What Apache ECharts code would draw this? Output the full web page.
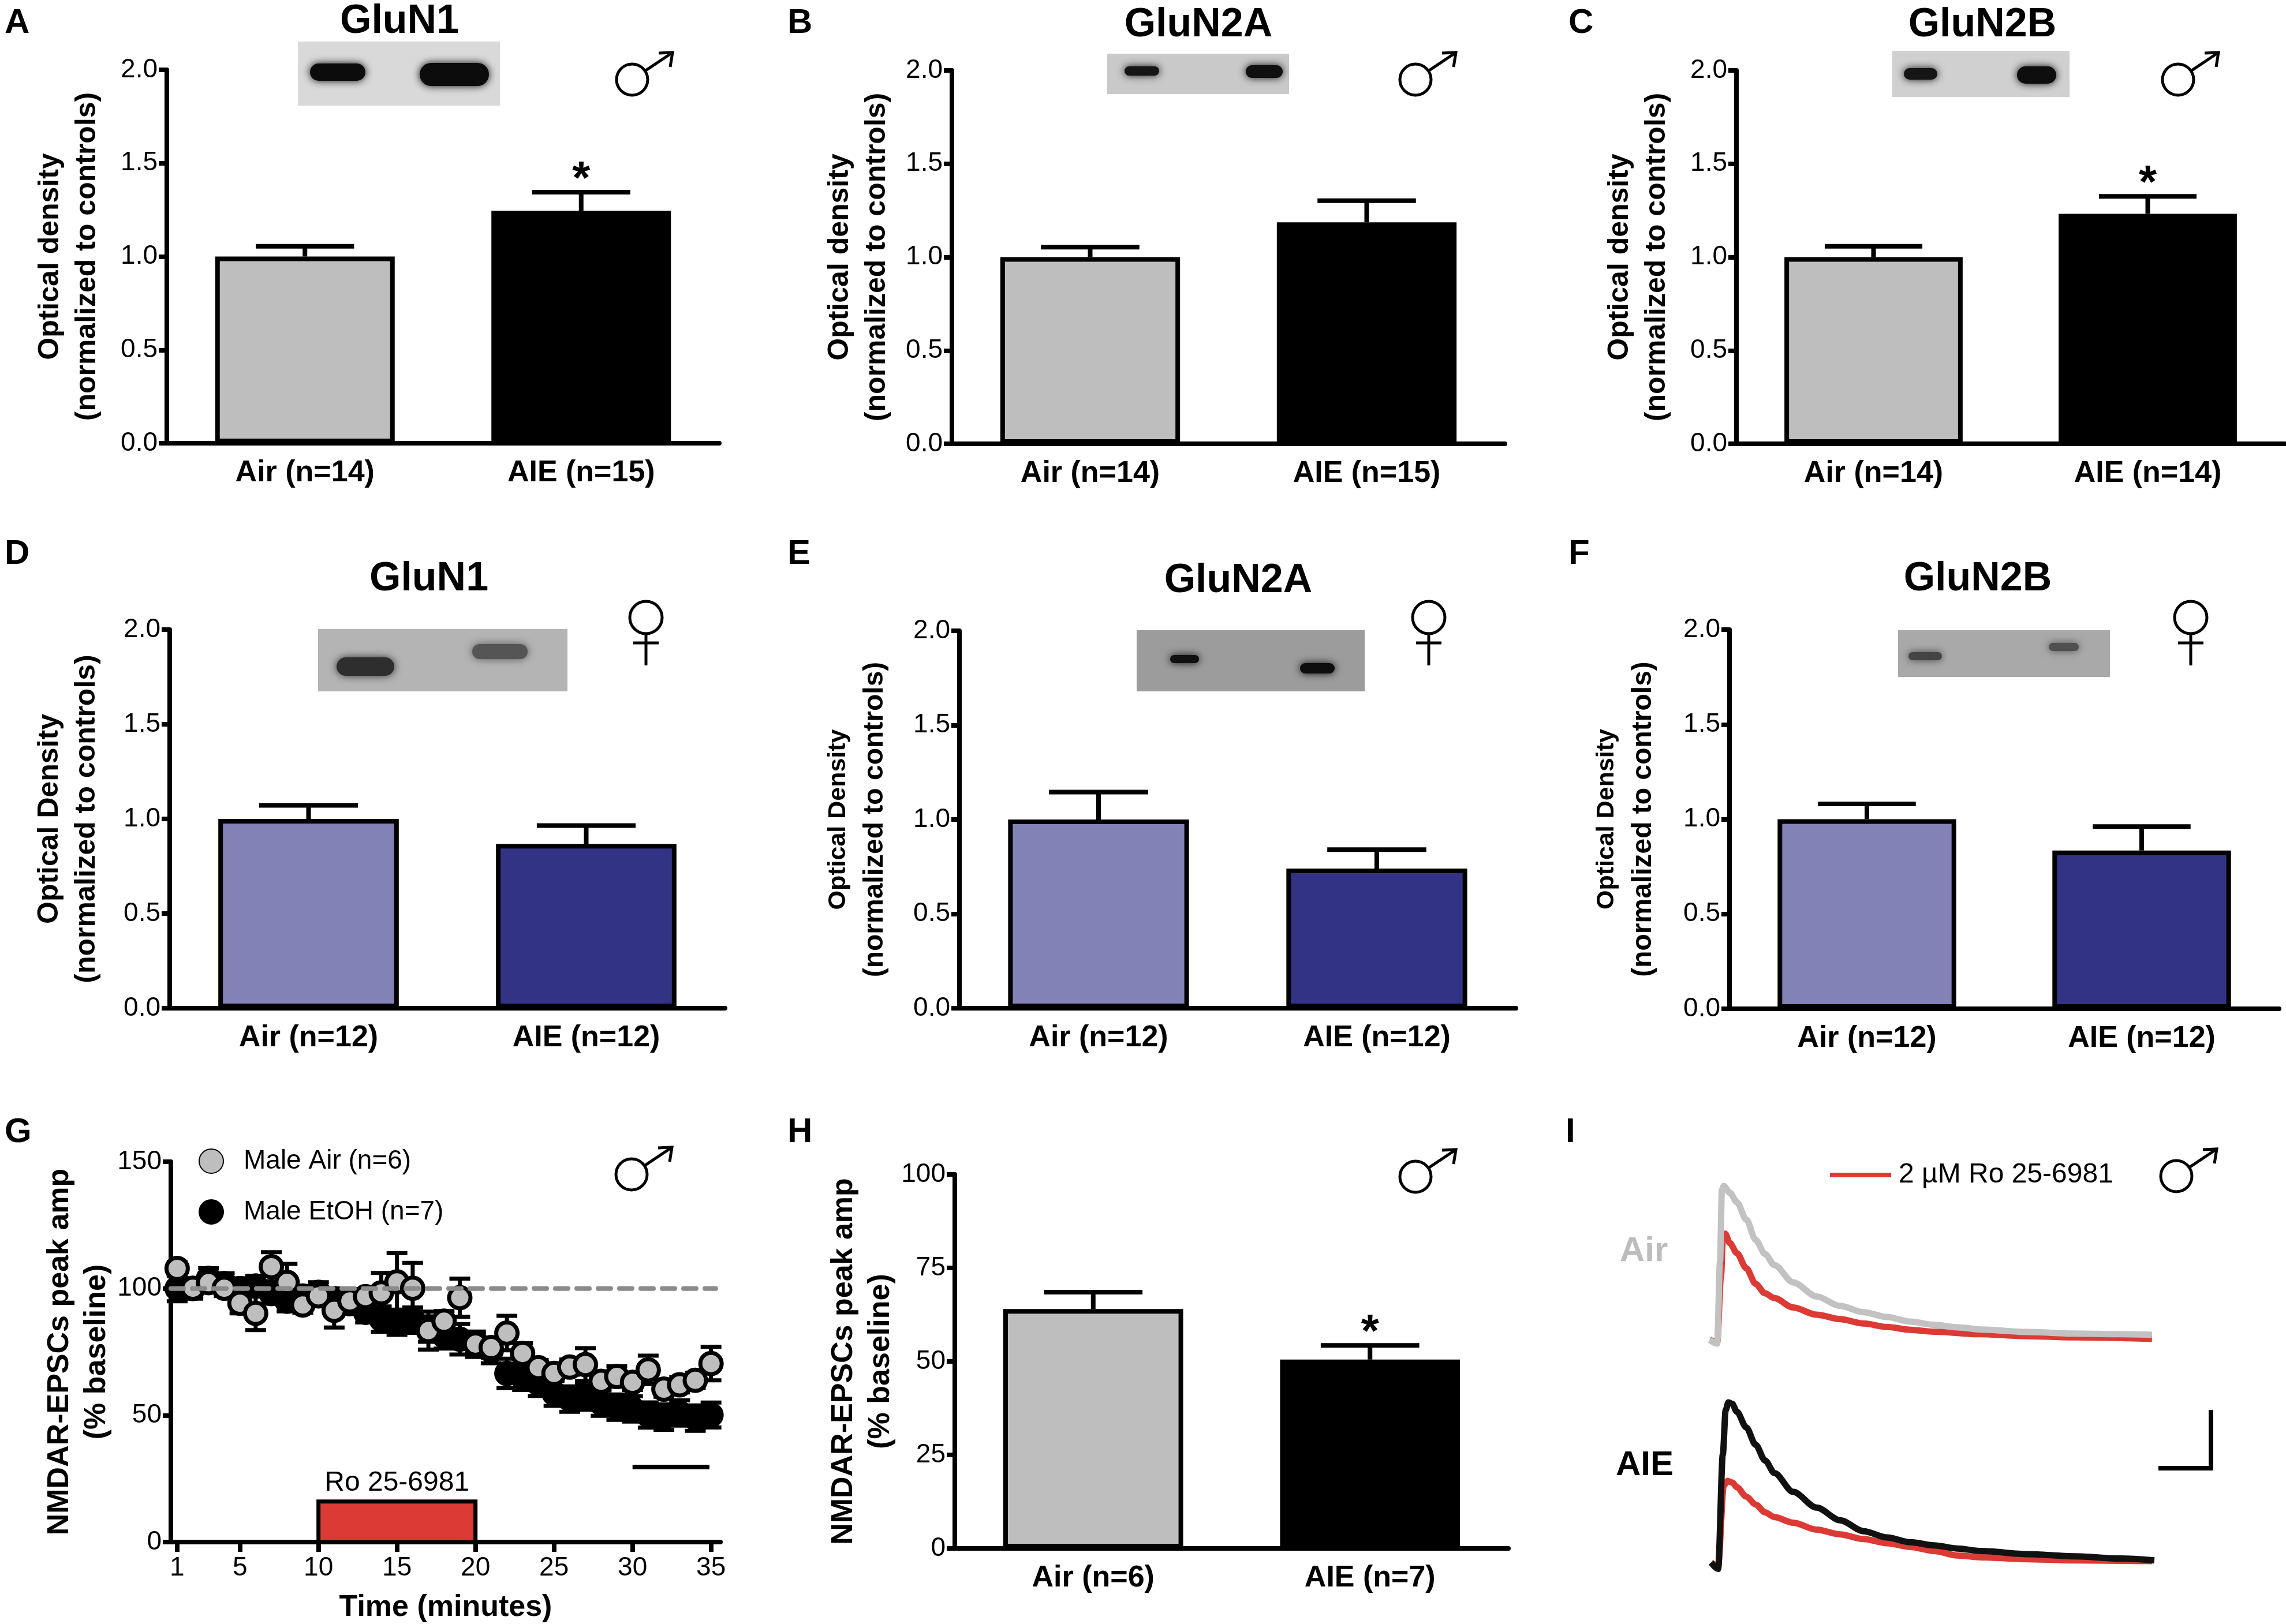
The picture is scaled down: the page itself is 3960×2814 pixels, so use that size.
<!DOCTYPE html>
<html>
<head>
<meta charset="utf-8">
<script src="https://cdn.jsdelivr.net/npm/echarts@6/dist/echarts.min.js"></script>
<title>NMDAR subunits and Ro 25-6981</title>
<style>html,body{margin:0;padding:0;background:#fff;}</style>
</head>
<body>
<div id="main" style="width:3960px;height:2814px;"></div>
<script type="text/javascript">
// ---- data ----
// A-C: male western blots
var catsA = ['Air (n=14)', 'AIE (n=15)'];
var meanA = [1.0, 1.245];
var errA = [0.055, 0.10];
var starA = ['', '*'];

var catsB = ['Air (n=14)', 'AIE (n=15)'];
var meanB = [1.0, 1.186];
var errB = [0.053, 0.116];
var starB = ['', ''];

var catsC = ['Air (n=14)', 'AIE (n=14)'];
var meanC = [1.0, 1.232];
var errC = [0.058, 0.093];
var starC = ['', '*'];

// D-F: female western blots
var catsD = ['Air (n=12)', 'AIE (n=12)'];
var meanD = [1.0, 0.868];
var errD = [0.072, 0.097];

var catsE = ['Air (n=12)', 'AIE (n=12)'];
var meanE = [1.0, 0.74];
var errE = [0.145, 0.10];

var catsF = ['Air (n=12)', 'AIE (n=12)'];
var meanF = [1.0, 0.835];
var errF = [0.081, 0.126];
var noStar = ['', ''];

// G: time course, % baseline
var minutes = [1, 2, 3, 4, 5, 6, 7, 8, 9, 10, 11, 12, 13, 14, 15, 16, 17, 18,
  19, 20, 21, 22, 23, 24, 25, 26, 27, 28, 29, 30, 31, 32, 33, 34, 35];
var airMean = [107.9, 100.1, 102.3, 100.1, 94.2, 90.2, 108.6, 102.4, 93.5, 97.1, 91.4, 95.1,
  96.8, 98.3, 102.6, 100.1, 83.4, 87.1, 96.4, 78.1, 76.7, 82.4, 74.4, 68.8, 66.5, 69.0,
  70.0, 63.4, 65.3, 63.0, 67.9, 60.3, 62.0, 63.8, 70.4];
var airErr = [2.5, 3, 3, 3, 4, 6.6, 5.7, 7.3, 3, 3, 6.8, 3, 3, 7.8, 11.3, 10, 7.5, 4, 7.5,
  4, 4, 6.8, 4, 3, 3, 3, 6.5, 3, 4, 3, 5.6, 3, 3, 3, 6.6];
var etohMean = [100, 100, 104, 102, 100, 101, 98, 95, 97, 98.5, 96, 94, 90.6, 87.9, 86.7,
  87.5, 84, 81.3, 80, 78, 75.5, 66.5, 65, 62.6, 58.7, 56.4, 57.2, 54.8, 53.2, 52.5, 50.1,
  49.3, 50.9, 48.9, 50.1];
var etohErr = [5, 4, 4, 4, 4, 4, 4, 4, 4, 4, 4, 4, 4, 5, 5, 5, 5, 5, 6, 5, 5, 5.8, 5, 5, 5,
  5, 5, 5, 5, 5, 5, 5, 5, 5, 4.9];
var timeTicks = [1, 5, 10, 15, 20, 25, 30, 35];
var drugWindow = [10, 20];
var drugBarTop = 16;
var baseline = 100;
var gScaleBar = [30, 34.9, 29.6];

// H: % baseline after drug
var catsH = ['Air (n=6)', 'AIE (n=7)'];
var meanH = [64.0, 50.5];
var errH = [4.5, 3.8];
var starH = ['', '*'];

// I: example traces [time, amplitude] (arbitrary units)
var airCtrlTrace = [[-18, 0], [-2, -12], [4, 250], [8, 478], [12, 490], [25, 468], [40, 438],
  [60, 383], [80, 318], [100, 273], [120, 238], [160, 183], [210, 138], [260, 108], [310, 88],
  [360, 73], [410, 58], [460, 48], [510, 40], [560, 33], [660, 25], [760, 20], [860, 18], [925, 16]];
var airRoTrace = [[-18, 0], [-2, -7], [6, 200], [10, 318], [15, 338], [25, 308], [40, 276],
  [60, 228], [80, 178], [100, 148], [120, 133], [160, 103], [210, 80], [260, 66], [310, 52],
  [360, 41], [410, 32], [460, 26], [560, 18], [660, 12], [760, 8], [925, 3]];
var aieCtrlTrace = [[-15, 0], [0, -20], [10, 345], [16, 485], [22, 510], [30, 505], [40, 480],
  [60, 430], [80, 375], [100, 325], [120, 285], [160, 225], [210, 175], [260, 135], [310, 100],
  [360, 80], [410, 65], [460, 55], [510, 45], [560, 37], [660, 27], [760, 20], [860, 13], [930, 7]];
var aieRoTrace = [[-15, 0], [0, -10], [12, 245], [20, 260], [30, 255], [40, 240], [60, 210],
  [80, 185], [100, 160], [120, 145], [160, 127], [210, 105], [260, 90], [310, 75], [360, 62],
  [410, 50], [460, 37], [510, 23], [560, 17], [660, 11], [760, 7], [925, 5]];

// ---- styles ----
var FONT = "'Liberation Sans', Arial, Helvetica, sans-serif";
var LW = 8;
var GRAY = '#bebebe', BLACK = '#000000';
var LILAC = '#8282b6', NAVY = '#333386';
var RED = '#dc3a35';

var layout = [
  {left: 289, top: 121, width: 957, height: 647},   // A
  {left: 1649, top: 122, width: 958, height: 647},  // B
  {left: 3008, top: 122, width: 950, height: 647},  // C
  {left: 294, top: 1091, width: 962, height: 656},  // D
  {left: 1662, top: 1093, width: 964, height: 654}, // E
  {left: 2996, top: 1091, width: 952, height: 657}, // F
  {left: 296, top: 2013, width: 952, height: 659},  // G
  {left: 1654, top: 2035, width: 959, height: 648}, // H
  {left: 2956, top: 2044, width: 780, height: 294}, // I air
  {left: 2956, top: 2419, width: 780, height: 305}  // I AIE
];

var grids = layout.map(function (g) {
  return {left: g.left, top: g.top, width: g.width, height: g.height,
    containLabel: false, outerBoundsMode: 'none', show: false};
});
var xAxes = [], yAxes = [], series = [];

function catAxis(gi, cats) {
  return {
    type: 'category', gridIndex: gi, data: cats,
    axisLine: {lineStyle: {color: BLACK, width: LW}},
    axisTick: {alignWithLabel: true, length: 17, lineStyle: {color: BLACK, width: LW}},
    axisLabel: {color: BLACK, fontFamily: FONT, fontWeight: 'bold', fontSize: 52, margin: 26},
    splitLine: {show: false}
  };
}

function valAxis(gi, max, interval, digits, name, gap, rich) {
  return {
    type: 'value', gridIndex: gi, min: 0, max: max, interval: interval,
    axisLine: {show: true, lineStyle: {color: BLACK, width: LW}},
    axisTick: {show: true, length: 14, lineStyle: {color: BLACK, width: LW}},
    axisLabel: {color: BLACK, fontFamily: FONT, fontSize: 46, margin: 16,
      formatter: function (v) { return v.toFixed(digits); }},
    splitLine: {show: false},
    name: name, nameLocation: 'middle', nameRotate: 90, nameGap: gap,
    nameTextStyle: {color: BLACK, fontFamily: FONT, fontWeight: 'bold', fontSize: 50,
      lineHeight: 64, rich: rich}
  };
}

function barErrRender(stars) {
  return function (params, api) {
    var c = api.value(0), m = api.value(1), e = api.value(2);
    var p0 = api.coord([c, m]), p1 = api.coord([c, m + e]);
    var hw = api.size([1, 0])[0] * 0.178;
    var kids = [
      {type: 'line', shape: {x1: p0[0], y1: p0[1], x2: p1[0], y2: p1[1]},
        style: {stroke: BLACK, lineWidth: LW}},
      {type: 'line', shape: {x1: p1[0] - hw, y1: p1[1], x2: p1[0] + hw, y2: p1[1]},
        style: {stroke: BLACK, lineWidth: LW}}
    ];
    if (stars[params.dataIndex]) {
      kids.push({type: 'text', x: p1[0], y: p1[1] - 20,
        style: {text: stars[params.dataIndex], fill: BLACK, fontFamily: FONT,
          fontWeight: 'bold', fontSize: 80, align: 'center', verticalAlign: 'middle'}});
    }
    return {type: 'group', children: kids};
  };
}

function barPanel(gi, cats, means, errs, stars, colors, max, interval, digits, name, gap, rich) {
  xAxes.push(catAxis(gi, cats));
  yAxes.push(valAxis(gi, max, interval, digits, name, gap, rich));
  series.push({
    type: 'bar', xAxisIndex: gi, yAxisIndex: gi, barWidth: '65%', z: 2,
    data: means.map(function (v, i) {
      return {value: v, itemStyle: {color: colors[i], borderColor: BLACK, borderWidth: LW}};
    })
  });
  series.push({
    type: 'custom', xAxisIndex: gi, yAxisIndex: gi, z: 3, silent: true,
    renderItem: barErrRender(stars),
    data: means.map(function (v, i) { return [i, v, errs[i]]; })
  });
}

var odName = 'Optical density\n(normalized to controls)';
var odName2 = 'Optical Density\n(normalized to controls)';
var odRich = '{a|Optical Density}\n{b|(normalized to controls)}';
var richSmall = {
  a: {fontFamily: FONT, fontWeight: 'bold', fontSize: 43, lineHeight: 64, color: BLACK},
  b: {fontFamily: FONT, fontWeight: 'bold', fontSize: 48, lineHeight: 64, color: BLACK}
};
var nmdaName = 'NMDAR-EPSCs peak amp\n(% baseline)';

barPanel(0, catsA, meanA, errA, starA, [GRAY, BLACK], 2, 0.5, 1, odName, 106);
barPanel(1, catsB, meanB, errB, starB, [GRAY, BLACK], 2, 0.5, 1, odName, 98);
barPanel(2, catsC, meanC, errC, starC, [GRAY, BLACK], 2, 0.5, 1, odName, 106);
barPanel(3, catsD, meanD, errD, noStar, [LILAC, NAVY], 2, 0.5, 1, odName2, 112);
barPanel(4, catsE, meanE, errE, noStar, [LILAC, NAVY], 2, 0.5, 1, odRich, 114, richSmall);
barPanel(5, catsF, meanF, errF, noStar, [LILAC, NAVY], 2, 0.5, 1, odRich, 117, richSmall);

// ---- G: time course ----
xAxes.push({
  type: 'value', gridIndex: 6, min: 0.6, max: 35.6,
  axisLine: {lineStyle: {color: BLACK, width: LW}},
  axisTick: {show: true, length: 17, customValues: timeTicks, lineStyle: {color: BLACK, width: LW}},
  axisLabel: {color: BLACK, fontFamily: FONT, fontSize: 46, margin: 22, customValues: timeTicks},
  splitLine: {show: false},
  name: 'Time (minutes)', nameLocation: 'middle', nameGap: 88,
  nameTextStyle: {color: BLACK, fontFamily: FONT, fontWeight: 'bold', fontSize: 52}
});
var gY = valAxis(6, 150, 50, 0, nmdaName, 92);
gY.nameTextStyle.fontSize = 52;
yAxes.push(gY);

function ptErrRender(params, api) {
  var x = api.value(0), m = api.value(1), e = api.value(2);
  var top = api.coord([x, m + e]), bot = api.coord([x, m - e]);
  var hw = 18;
  var st = {stroke: BLACK, lineWidth: 7};
  return {type: 'group', children: [
    {type: 'line', shape: {x1: top[0], y1: top[1], x2: bot[0], y2: bot[1]}, style: st},
    {type: 'line', shape: {x1: top[0] - hw, y1: top[1], x2: top[0] + hw, y2: top[1]}, style: st},
    {type: 'line', shape: {x1: bot[0] - hw, y1: bot[1], x2: bot[0] + hw, y2: bot[1]}, style: st}
  ]};
}

series.push({
  type: 'custom', xAxisIndex: 6, yAxisIndex: 6, z: 4, silent: true, renderItem: ptErrRender,
  data: minutes.map(function (t, i) { return [t, etohMean[i], etohErr[i]]; })
});
series.push({
  type: 'scatter', name: 'Male EtOH (n=7)', xAxisIndex: 6, yAxisIndex: 6, z: 5,
  symbol: 'circle', symbolSize: 37,
  itemStyle: {color: BLACK, borderColor: BLACK, borderWidth: 7, opacity: 1},
  data: minutes.map(function (t, i) { return [t, etohMean[i]]; })
});
series.push({
  type: 'custom', xAxisIndex: 6, yAxisIndex: 6, z: 6, silent: true, renderItem: ptErrRender,
  data: minutes.map(function (t, i) { return [t, airMean[i], airErr[i]]; })
});
series.push({
  type: 'scatter', name: 'Male Air (n=6)', xAxisIndex: 6, yAxisIndex: 6, z: 7,
  symbol: 'circle', symbolSize: 37,
  itemStyle: {color: GRAY, borderColor: BLACK, borderWidth: 7, opacity: 1},
  data: minutes.map(function (t, i) { return [t, airMean[i]]; })
});
// baseline reference
series.push({
  type: 'line', xAxisIndex: 6, yAxisIndex: 6, z: 8, silent: true, showSymbol: false,
  lineStyle: {color: '#8a8a8a', width: 8, type: [22, 15], cap: 'round'},
  data: [[0.6, baseline], [35.3, baseline]]
});
// time scale bar
series.push({
  type: 'line', xAxisIndex: 6, yAxisIndex: 6, z: 8, silent: true, showSymbol: false,
  lineStyle: {color: BLACK, width: 8},
  data: [[gScaleBar[0], gScaleBar[2]], [gScaleBar[1], gScaleBar[2]]]
});
// drug application bar
series.push({
  type: 'custom', xAxisIndex: 6, yAxisIndex: 6, z: 3, silent: true,
  renderItem: function (params, api) {
    var p0 = api.coord([api.value(0), 0]), p1 = api.coord([api.value(1), api.value(2)]);
    return {type: 'group', children: [
      {type: 'rect', shape: {x: p0[0], y: p1[1], width: p1[0] - p0[0], height: p0[1] - p1[1]},
        style: {fill: RED, stroke: BLACK, lineWidth: 7}},
      {type: 'text', x: (p0[0] + p1[0]) / 2, y: p1[1] - 8,
        style: {text: 'Ro 25-6981', fill: BLACK, fontFamily: FONT, fontSize: 48,
          align: 'center', verticalAlign: 'bottom'}}
    ]};
  },
  data: [[drugWindow[0], drugWindow[1], drugBarTop]]
});

// ---- H ----
barPanel(7, catsH, meanH, errH, starH, [GRAY, BLACK], 100, 25, 0, nmdaName, 96);
yAxes[7].nameTextStyle.fontSize = 52;

// ---- I: traces ----
xAxes.push({type: 'value', gridIndex: 8, min: -25, max: 935, show: false});
yAxes.push({type: 'value', gridIndex: 8, min: -30, max: 510, show: false});
xAxes.push({type: 'value', gridIndex: 9, min: -25, max: 935, show: false});
yAxes.push({type: 'value', gridIndex: 9, min: -30, max: 530, show: false});

function trace(gi, data, color, z) {
  return {type: 'line', xAxisIndex: gi, yAxisIndex: gi, z: z, silent: true,
    showSymbol: false, smooth: 0.3, smoothMonotone: 'x',
    lineStyle: {color: color, width: 11}, data: data};
}
series.push(trace(8, airRoTrace, RED, 2));
series.push(trace(8, airCtrlTrace, '#c2c2c2', 3));
series.push(trace(9, aieRoTrace, RED, 2));
series.push(trace(9, aieCtrlTrace, '#111111', 3));

// ---- decorations ----
function txt(x, y, s, size, opts) {
  opts = opts || {};
  return {type: 'text', x: x, y: y, z: 10, silent: true,
    style: {text: s, fill: opts.color || BLACK, fontFamily: FONT,
      fontWeight: opts.weight || 'bold', fontSize: size,
      align: opts.align || 'left', verticalAlign: opts.valign || 'top'}};
}
function male(cx, cy) {
  var r = 27, tx = cx + 70, ty = cy - 47;
  var a = Math.atan2(ty - cy, tx - cx);
  var st = {stroke: BLACK, lineWidth: 5, fill: null};
  return {type: 'group', silent: true, children: [
    {type: 'circle', shape: {cx: cx, cy: cy, r: r}, style: {stroke: BLACK, lineWidth: 5, fill: 'none'}},
    {type: 'line', shape: {x1: cx + r * Math.cos(a), y1: cy + r * Math.sin(a), x2: tx, y2: ty}, style: st},
    {type: 'polyline', shape: {points: [[tx - 24, ty + 1], [tx, ty], [tx - 4, ty + 25]]}, style: st}
  ]};
}
function female(cx, cy) {
  var r = 28;
  var st = {stroke: BLACK, lineWidth: 5};
  return {type: 'group', silent: true, children: [
    {type: 'circle', shape: {cx: cx, cy: cy, r: r}, style: {stroke: BLACK, lineWidth: 5, fill: 'none'}},
    {type: 'line', shape: {x1: cx, y1: cy + r, x2: cx, y2: cy + r + 55}, style: st},
    {type: 'line', shape: {x1: cx - 22, y1: cy + r + 16, x2: cx + 22, y2: cy + r + 16}, style: st}
  ]};
}
function blot(x, y, w, h, fill, bands) {
  var kids = [{type: 'rect', shape: {x: x, y: y, width: w, height: h}, style: {fill: fill}}];
  bands.forEach(function (b) {
    kids.push({type: 'rect', shape: {x: b[0] - b[2], y: b[1] - b[3], width: 2 * b[2], height: 2 * b[3], r: b[3]},
      style: {fill: b[4], shadowBlur: 14, shadowColor: b[4]}});
  });
  return {type: 'group', silent: true, children: kids};
}

var graphics = [
  txt(8, 10, 'A', 60), txt(1364, 10, 'B', 60), txt(2717, 10, 'C', 60),
  txt(8, 930, 'D', 60), txt(1364, 930, 'E', 60), txt(2717, 930, 'F', 60),
  txt(8, 1932, 'G', 60), txt(1364, 1932, 'H', 60), txt(2712, 1932, 'I', 60),
  txt(692, 38, 'GluN1', 70, {align: 'center', valign: 'middle'}),
  txt(2076, 44, 'GluN2A', 70, {align: 'center', valign: 'middle'}),
  txt(3434, 44, 'GluN2B', 70, {align: 'center', valign: 'middle'}),
  txt(743, 1004, 'GluN1', 70, {align: 'center', valign: 'middle'}),
  txt(2145, 1007, 'GluN2A', 70, {align: 'center', valign: 'middle'}),
  txt(3426, 1004, 'GluN2B', 70, {align: 'center', valign: 'middle'}),
  blot(516, 72, 350, 111, '#d9d9d9', [[585, 125, 48, 15, '#0c0c0c'], [787, 129, 60, 20, '#0c0c0c']]),
  blot(1918, 93, 315, 70, '#c9c9c9', [[1978, 123, 30, 8, '#151515'], [2190, 124, 32, 11, '#101010']]),
  blot(3278, 88, 307, 80, '#d0d0d0', [[3327, 128, 29, 10, '#151515'], [3528, 130, 34, 15, '#0e0e0e']]),
  blot(551, 1090, 432, 108, '#b4b4b4', [[633, 1155, 50, 16, '#2e2e2e'], [866, 1129, 48, 13, '#555555']]),
  blot(1969, 1092, 395, 106, '#9c9c9c', [[2052, 1142, 25, 7, '#111111'], [2282, 1158, 30, 9, '#0e0e0e']]),
  blot(3288, 1092, 367, 81, '#a9a9a9', [[3335, 1137, 29, 7, '#444444'], [3575, 1121, 26, 7, '#505050']]),
  male(1095, 138), male(2452, 138), male(3773, 138),
  female(1119, 1070), female(2475, 1070), female(3795, 1070),
  male(1094, 2035), male(2452, 2039), male(3770, 2038),
  // I legend, labels and scale bar
  {type: 'line', silent: true, shape: {x1: 3170, y1: 2036, x2: 3276, y2: 2036}, style: {stroke: RED, lineWidth: 8}},
  txt(3289, 2036, '2 \u00b5M Ro 25-6981', 48, {weight: 'normal', valign: 'middle'}),
  txt(2806, 2168, 'Air', 60, {color: '#bdbdbd', valign: 'middle'}),
  txt(2799, 2539, 'AIE', 60, {valign: 'middle'}),
  {type: 'polyline', silent: true, shape: {points: [[3739, 2544], [3830, 2544], [3830, 2443]]},
    style: {stroke: BLACK, lineWidth: 8, fill: null}}
];

var myChart = echarts.init(document.getElementById('main'));
myChart.setOption({
  animation: false,
  backgroundColor: '#ffffff',
  textStyle: {fontFamily: FONT},
  grid: grids,
  xAxis: xAxes,
  yAxis: yAxes,
  legend: {
    show: true, orient: 'vertical', left: 339, top: 1984, itemGap: 42,
    itemWidth: 42, itemHeight: 42, selectedMode: false,
    data: ['Male Air (n=6)', 'Male EtOH (n=7)'],
    textStyle: {color: BLACK, fontFamily: FONT, fontSize: 46, padding: [0, 0, 0, 30]}
  },
  series: series,
  graphic: graphics
});
</script>
</body>
</html>
